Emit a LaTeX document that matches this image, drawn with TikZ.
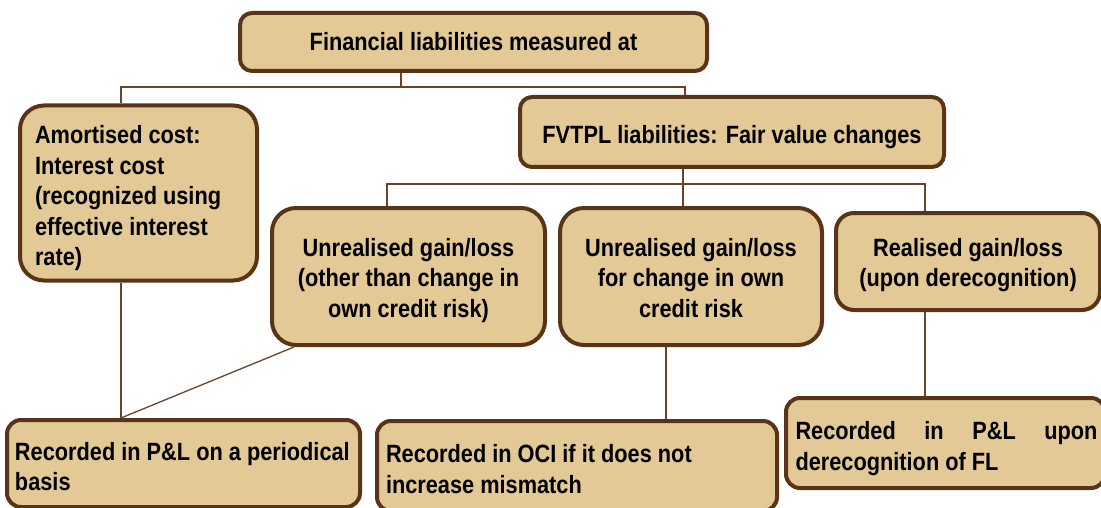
\documentclass[tikz,border=0pt]{standalone}
\usepackage{fontspec}
\setmainfont{Liberation Sans}[FakeStretch=0.87]
\usetikzlibrary{calc}
\definecolor{boxfill}{HTML}{E2C996}
\definecolor{boxline}{HTML}{5A3417}
\definecolor{conn}{HTML}{6B4428}
\tikzset{
  box/.style={draw=boxline, fill=boxfill, line width=4pt, rounded corners=#1,
    font=\fontsize{25}{30.5}\selectfont\bfseries, inner sep=0pt},
  box/.default=14pt,
  lowtext/.style={execute at begin node={\rule{0pt}{30pt}},
    execute at end node={\rule[-6pt]{0pt}{6pt}}},
  midtext/.style={execute at begin node={\rule{0pt}{26pt}},
    execute at end node={\rule[-6pt]{0pt}{6pt}}},
  thin/.style={draw=conn, line width=1.3pt},
  thick/.style={draw=conn, line width=2pt},
}
\begin{document}
\begin{tikzpicture}[x=1pt,y=-1pt]
\useasboundingbox (0,0) rectangle (1101,508);
\clip (0,0) rectangle (1101,508);
% boxes
\node[box=12pt, minimum width=467pt, minimum height=58pt] (top) at (473.5,42) {Financial liabilities measured at};
\node[box=24pt, lowtext, minimum width=237pt, minimum height=175pt, text width=207pt, align=flush left] (amort) at (138.5,193)
  {Amortised cost:\\Interest cost\\(recognized using\\effective interest\\rate)};
\node[box=12pt, lowtext, minimum width=424pt, minimum height=70pt] (fv) at (732,132) {FVTPL liabilities: Fair value changes};
\node[box=24pt, midtext, minimum width=273pt, minimum height=137pt, text width=250pt, align=flush center] (u1) at (408.5,276.5)
  {Unrealised gain/loss\\(other than change in\\own credit risk)};
\node[box=24pt, midtext, minimum width=262pt, minimum height=137pt, text width=240pt, align=flush center] (u2) at (691,276.5)
  {Unrealised gain/loss\\for change in own\\credit risk};
\node[box=18pt, midtext, minimum width=264pt, minimum height=97pt, text width=244pt, align=flush center] (r) at (968,261.5)
  {Realised gain/loss\\(upon derecognition)};
\node[box=14pt, lowtext, minimum width=353pt, minimum height=87pt, text width=337pt, align=flush left] (b1) at (183.5,463.5)
  {Recorded in P\&L on a periodical\\basis};
\node[box=14pt, lowtext, minimum width=400pt, minimum height=90pt, text width=382pt, align=flush left] (b2) at (577,466)
  {Recorded in OCI if it does not\\increase mismatch};
\node[box=14pt, lowtext, minimum width=319pt, minimum height=90pt, text width=300pt, align=flush left,
  font=\fontsize{25}{31}\selectfont\bfseries] (b3) at (945.5,443)
  {\hbox to 302pt{Recorded\hfill in\hfill P\&L\hfill upon}\\derecognition of FL};
% junctions
\coordinate (j0) at (401,87);
\coordinate (jl) at (121,87);
\coordinate (jr) at (685,87);
\coordinate (k0) at (683,184);
\coordinate (kl) at (387,184);
\coordinate (kr) at (925,184);
% connectors
\draw[thin] (top.south -| j0) -- (j0);
\draw[thin] (amort.north -| jl) -- (jl) -- (jr) -- (fv.north -| jr);
\draw[thin] (fv.south -| k0) -- (k0);
\draw[thin] (u1.north -| kl) -- (kl) -- (kr) -- (r.north -| kr);
\draw[thin] (k0) -- (u2.north -| k0);
\draw[thick] (amort.south -| jl) -- (b1.north -| jl);
\draw[thin] ($(u1.south west)+(24,0)$) -- (b1.north -| jl);
\draw[thick] (u2.south -| 666,0) -- (b2.north -| 666,0);
\draw[thick] (r.south -| kr) -- (b3.north -| kr);
\end{tikzpicture}
\end{document}
